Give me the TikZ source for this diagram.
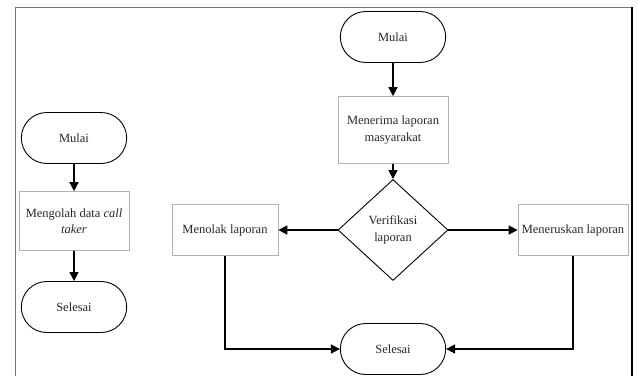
\documentclass[tikz,border=0pt]{standalone}
\usepackage{fontspec}
\setmainfont{Liberation Serif}
\usetikzlibrary{arrows.meta}
\usetikzlibrary{positioning}
\usetikzlibrary{shapes.geometric}
\usetikzlibrary{shapes.misc}

\begin{document}
\begin{tikzpicture}[x=1bp, y=-1bp, -{Triangle[length=9bp,width=9bp]}, line width=1.6bp,
  font=\fontsize{12.5bp}{16.5bp}\selectfont, text=black!85]
\tikzstyle{terminal} = [draw=black, rounded rectangle, minimum width=112bp, minimum height=51bp, line width=0.9bp]
\tikzstyle{process} = [draw=black!30, rectangle, minimum width=110bp, minimum height=59bp, align=center, line width=0.7bp]
\tikzstyle{decision} = [draw=black, diamond, minimum width=110bp, minimum height=101bp, inner sep=0pt, align=center, line width=0.9bp]

\useasboundingbox (0,0) rectangle (638,376);
\draw[-, draw=black!55, line width=0.8bp] (15,376) -- (15,7) -- (632,7);
\draw[-, line width=2.4bp] (632,7) -- (632,376);

% alur call taker
\node[terminal] (mulaiA) at (74,138) {Mulai};
\node[process] (olah) at (74,221) {Mengolah data \textit{call}\\ \textit{taker}};
\node[terminal] (selesaiA) at (74,307) {Selesai};

% alur laporan masyarakat
\node[terminal] (mulaiB) at (393,37) {Mulai};
\node[process, minimum height=67bp] (terima) at (393,130) {Menerima laporan\\ masyarakat};
\node[decision] (verif) at (393,230) {Verifikasi\\ laporan};
\node[process, minimum width=106bp, minimum height=51bp] (tolak) at (225,230) {Menolak laporan};
\node[process, minimum height=51bp] (terus) at (573,230) {Meneruskan laporan};
\node[terminal] (selesaiB) at (393,349) {Selesai};

\path (mulaiA) edge (olah)
	(olah) edge (selesaiA)
	(mulaiB) edge (terima)
	(terima) edge (verif)
	(verif) edge (tolak)
		edge (terus)
	;
\draw (tolak.south) |- (selesaiB.west);
\draw (terus.south) |- (selesaiB.east);

\end{tikzpicture}
\end{document}
